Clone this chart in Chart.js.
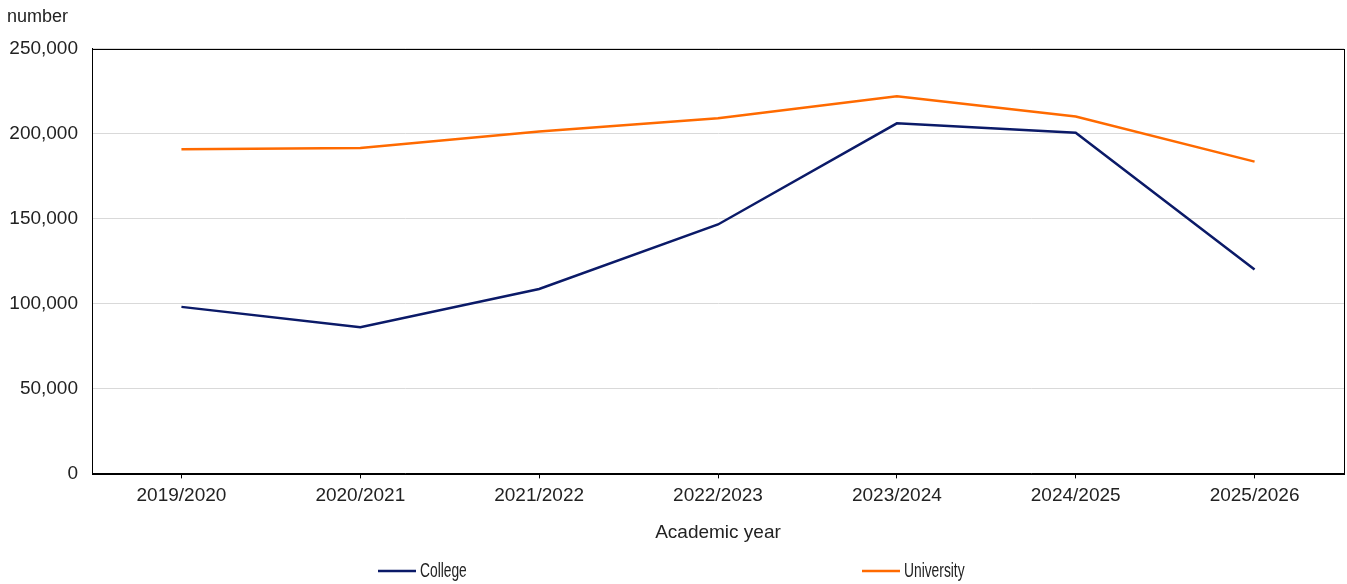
<!DOCTYPE html>
<html>
<head>
<meta charset="utf-8">
<title>College and university enrolments</title>
<script src="https://cdn.jsdelivr.net/npm/chart.js@4.4.1/dist/chart.umd.min.js"></script>
<style>
  html, body { margin: 0; padding: 0; background: #fff; }
  #wrap { position: relative; width: 1347px; height: 584px; }
</style>
</head>
<body>
<div id="wrap"><canvas id="grafica" width="1347" height="584"></canvas></div>
<script>
const years = ["2019/2020", "2020/2021", "2021/2022", "2022/2023", "2023/2024", "2024/2025", "2025/2026"];
const college = [98000, 86000, 108500, 146500, 206000, 200500, 120000];
const university = [190800, 191500, 201200, 209000, 222000, 210000, 183500];
const yTicks = [0, 50000, 100000, 150000, 200000, 250000];

const textColor = "#222";
const baseFont = "'Liberation Sans', Arial, sans-serif";

// frame around the plot + the two-item legend underneath
const framePlugin = {
  id: "frame",
  afterDraw(chart) {
    const ctx = chart.ctx;
    const a = chart.chartArea;
    ctx.save();
    ctx.strokeStyle = "#000";
    ctx.lineWidth = 1;
    ctx.strokeRect(Math.round(a.left) + 0.5, Math.round(a.top) + 0.5,
      Math.round(a.right - a.left), Math.round(a.bottom - a.top));

    const items = [
      { x: 378, ds: chart.data.datasets[0] },
      { x: 862, ds: chart.data.datasets[1] }
    ];
    const y = 571;
    ctx.font = "20px " + baseFont;
    ctx.textBaseline = "middle";
    ctx.fillStyle = textColor;
    items.forEach(it => {
      ctx.strokeStyle = it.ds.borderColor;
      ctx.lineWidth = 2.5;
      ctx.beginPath();
      ctx.moveTo(it.x, y);
      ctx.lineTo(it.x + 38, y);
      ctx.stroke();
      // narrow lettering for the legend
      ctx.save();
      ctx.translate(it.x + 42, y);
      ctx.scale(0.69, 1);
      ctx.fillText(it.ds.label, 0, 0);
      ctx.restore();
    });
    ctx.restore();
  }
};

new Chart(document.getElementById("grafica"), {
  type: "line",
  data: {
    labels: years,
    datasets: [
      { label: "College", data: college, borderColor: "#0b1a68", backgroundColor: "#0b1a68",
        borderWidth: 2.5, pointRadius: 0, tension: 0 },
      { label: "University", data: university, borderColor: "#ff6a00", backgroundColor: "#ff6a00",
        borderWidth: 2.5, pointRadius: 0, tension: 0 }
    ]
  },
  options: {
    responsive: false,
    animation: false,
    layout: { padding: { left: 7, right: 3, top: 2, bottom: 40 } },
    plugins: {
      legend: { display: false },
      tooltip: { enabled: false },
      title: {
        display: true, text: "number", align: "start", color: textColor,
        font: { family: baseFont, size: 18, weight: "normal" },
        padding: { top: 4, bottom: 21 }
      }
    },
    scales: {
      x: {
        offset: true,
        grid: { display: true, offset: false, drawOnChartArea: false, drawTicks: true,
          tickLength: 5, tickColor: "#000" },
        border: { color: "#000", width: 1 },
        ticks: { color: textColor, padding: 6, maxRotation: 0,
          font: { family: baseFont, size: 19 } },
        title: { display: true, text: "Academic year", color: textColor,
          font: { family: baseFont, size: 19 }, padding: { top: 8, bottom: 0 } }
      },
      y: {
        min: 0, max: 250000,
        afterBuildTicks(scale) { scale.ticks = yTicks.map(v => ({ value: v })); },
        afterFit(scale) { scale.width = 85; },
        grid: { color: "#d9d9d9", drawTicks: false },
        border: { color: "#000", width: 1 },
        ticks: { color: textColor, padding: 14,
          font: { family: baseFont, size: 19 },
          callback: v => v.toLocaleString("en-US") }
      }
    }
  },
  plugins: [framePlugin]
});
</script>
</body>
</html>
